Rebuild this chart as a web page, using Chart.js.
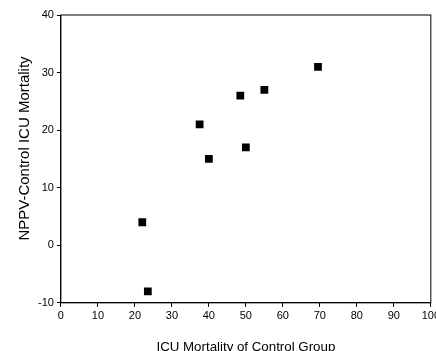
<!DOCTYPE html>
<html>
<head>
<meta charset="utf-8">
<script src="https://cdn.jsdelivr.net/npm/chart.js@4"></script>
<style>
  html, body { margin: 0; padding: 0; background: #fff; overflow: hidden; }
  #wrap { width: 436px; height: 351px; overflow: hidden; }
</style>
</head>
<body>
<div id="wrap"><canvas id="chart" width="443" height="351"></canvas></div>
<script>
// ICU mortality of control group vs NPPV-control difference
const controlMortality = [69.5, 55, 48.5, 37.5, 50, 40, 22, 23.5];
const nppvDifference   = [31, 27, 26, 21, 17, 15, 4, -8];
const xTicks = [0, 10, 20, 30, 40, 50, 60, 70, 80, 90, 100];
const yTicks = [-10, 0, 10, 20, 30, 40];

const FONT = 'Liberation Sans, Arial, sans-serif';

// box around the plot area (top + right edges)
const frame = {
    id: 'frame',
    afterDraw(chart) {
        const { ctx, chartArea: a } = chart;
        ctx.save();
        ctx.strokeStyle = '#000';
        ctx.lineWidth = 1;
        ctx.strokeRect(a.left, a.top, a.right - a.left, a.bottom - a.top);
        ctx.restore();
    }
};

new Chart(document.getElementById('chart'), {
    type: 'scatter',
    data: {
        datasets: [{
            data: controlMortality.map((x, i) => ({ x, y: nppvDifference[i] })),
            pointStyle: 'rect',
            pointRadius: 5.5,
            backgroundColor: '#000',
            borderColor: '#000',
            borderWidth: 0
        }]
    },
    options: {
        responsive: false,
        animation: false,
        layout: { autoPadding: false, padding: { top: 15, right: -2, left: 16, bottom: -5 } },
        plugins: { legend: { display: false }, tooltip: { enabled: false } },
        scales: {
            x: {
                type: 'linear',
                min: 0, max: 100,
                afterBuildTicks: s => { s.ticks = xTicks.map(v => ({ value: v })); },
                grid: { drawOnChartArea: false, color: '#000', tickLength: 4 },
                border: { color: '#000' },
                ticks: { color: '#000', font: { family: FONT, size: 11 }, padding: 3, maxRotation: 0, autoSkip: false },
                title: { display: true, text: 'ICU Mortality of Control Group', color: '#000',
                         font: { family: FONT, size: 13.3 }, padding: { top: 13, bottom: 1 } }
            },
            y: {
                type: 'linear',
                min: -10, max: 40,
                afterBuildTicks: s => { s.ticks = yTicks.map(v => ({ value: v })); },
                grid: { drawOnChartArea: false, color: '#000', tickLength: 4 },
                border: { color: '#000' },
                ticks: { color: '#000', font: { family: FONT, size: 11 }, padding: 3, autoSkip: false },
                title: { display: true, text: '     NPPV-Control ICU Mortality', color: '#000',
                         font: { family: FONT, size: 15 }, padding: { top: 0, bottom: 1 } }
            }
        }
    },
    plugins: [frame]
});
</script>
</body>
</html>
